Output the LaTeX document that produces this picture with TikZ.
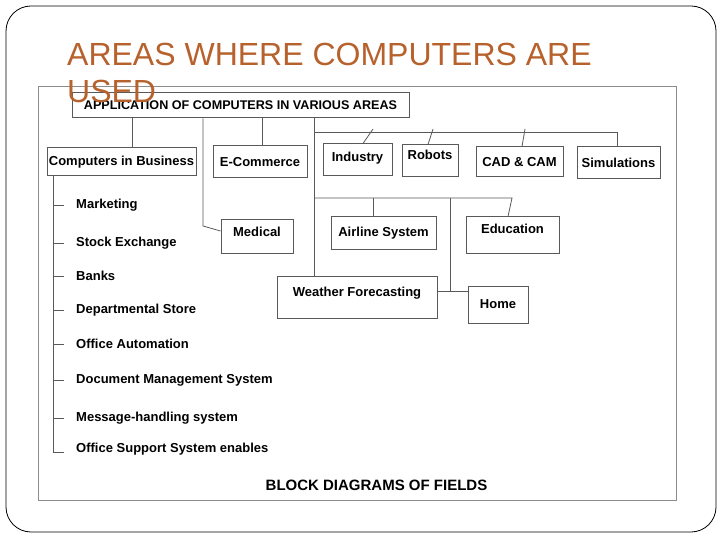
\documentclass[tikz,border=0pt]{standalone}
\usepackage{fontspec}
\setmainfont{Liberation Sans}
\usetikzlibrary{positioning}

\definecolor{titlebrown}{RGB}{183,97,45}
\newcommand{\boxfont}{\fontsize{13}{15}\selectfont\bfseries}

\begin{document}
\begin{tikzpicture}[
  x=1pt, y=-1pt,
  box/.style={draw=black!65, line width=1pt, fill=white, inner xsep=1pt, font=\boxfont},
  link/.style={draw=black!65, line width=0.8pt},
  item/.style={anchor=west, inner sep=0pt, font=\boxfont},
]
\useasboundingbox (0,0) rectangle (720,540);
% slide and picture frame
\draw[rounded corners=25pt, line width=0.8pt] (6,6) rectangle (716,532);
\draw[black!45, line width=1pt] (38,87) rectangle (676,500);

% blocks
\node[box, minimum width=337, minimum height=25, font=\fontsize{12.6}{14}\selectfont\bfseries] (app) at (240.5,105.5) {APPLICATION OF COMPUTERS IN VARIOUS AREAS};
\node[box, minimum width=149, minimum height=28] (biz) at (121.5,162) {Computers in Business};
\node[box, minimum width=94, minimum height=32] (ecom) at (260,162) {E-Commerce};
\node[box, minimum width=69, minimum height=32, text depth=6pt] (ind) at (357.5,160) {Industry};
\node[box, minimum width=56, minimum height=32, text depth=12pt] (rob) at (430,161) {Robots};
\node[box, minimum width=87, minimum height=30] (cad) at (519.5,162) {CAD \& CAM};
\node[box, minimum width=83, minimum height=32] (sim) at (618.5,163) {Simulations};
\node[box, minimum width=72, minimum height=33, text depth=9pt] (med) at (257,236.5) {Medical};
\node[box, minimum width=105, minimum height=32] (air) at (383.5,233) {Airline System};
\node[box, minimum width=93, minimum height=36, text depth=12pt] (edu) at (512.5,235) {Education};
\node[box, minimum width=160, minimum height=42, text depth=10pt] (wea) at (357,297) {Weather Forecasting};
\node[box, minimum width=60, minimum height=37] (home) at (498,304.5) {Home};

% links from the top block
\draw[link] (132,0 |- app.south) -- (132,0 |- biz.north);
\draw[link] (203,0 |- app.south) -- (203,226) -- (med.west |- 0,231);
\draw[link] (262,0 |- app.south) -- (262,0 |- ecom.north);
\draw[link] (314,0 |- app.south) -- (314,0 |- wea.north);

% first row
\coordinate (row1) at (314,132);
\draw[link] (row1) -- (617,132) -- (617,0 |- sim.north);
\draw[link] (373,129) -- (363,0 |- ind.north);
\draw[link] (433,129) -- (428,0 |- rob.north);
\draw[link] (525,129) -- (522,0 |- cad.north);

% second row
\coordinate (row2) at (314,198);
\draw[link] (row2) -- (512,198) -- (508,0 |- edu.north);
\draw[link] (373,198) -- (373,0 |- air.north);
\draw[link] (450,198) -- (450,291);
\draw[link] (wea.east |- 0,291) -- (home.west |- 0,291);

% business list
\foreach \txt/\y [count=\i] in {Marketing/205, Stock Exchange/243, Banks/276,
  Departmental Store/310, Office Automation/344, Document Management System/380,
  Message-handling system/418}
{
  \node[item] (it\i) at (76,\y) {\txt};
  \draw[link] (53,0 |- it\i.west) -- ++(11,0);
}
\node[item] (it8) at (76,449) {Office Support System enables};
\draw[link] (53,0 |- biz.south) -- (53,452) -- ++(11,0);

\node[font=\fontsize{15}{17}\selectfont\bfseries] (caption) at (376.5,485) {BLOCK DIAGRAMS OF FIELDS};

% slide title
\node[anchor=north west, inner sep=0pt, align=left, text=titlebrown,
  font=\fontsize{32}{37}\selectfont] (title) at (67,43) {AREAS WHERE COMPUTERS ARE\\USED};
\end{tikzpicture}
\end{document}
